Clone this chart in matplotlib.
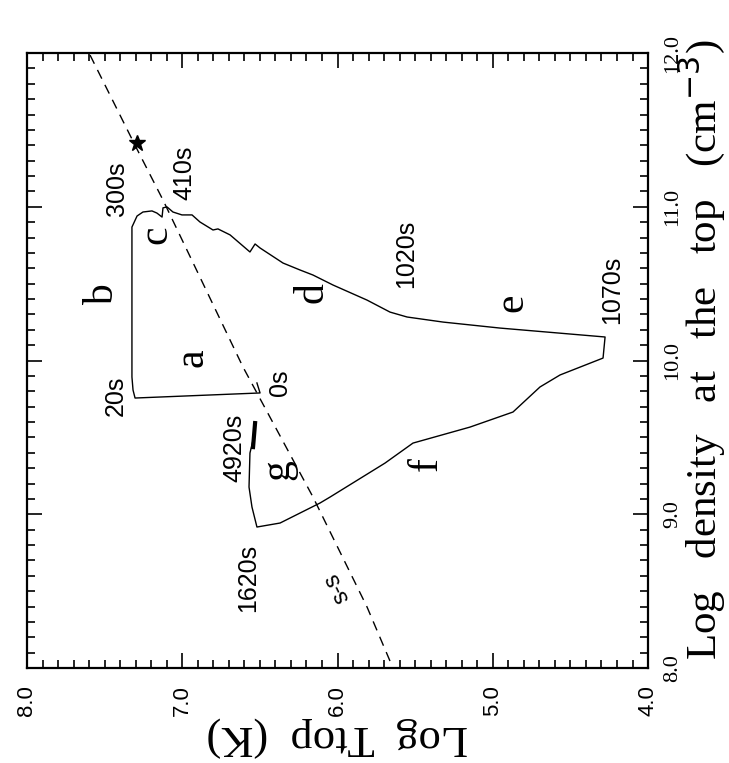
import matplotlib
matplotlib.use("Agg")
import matplotlib.pyplot as plt
from matplotlib.ticker import MultipleLocator

# loop-top track, log T (K) and log n (cm^-3)
log_t = [6.519, 6.499, 7.304, 7.317, 7.324, 7.324, 7.324, 7.291, 7.253, 7.195,
         7.163, 7.130, 7.124, 7.098, 7.060, 7.002, 6.937, 6.886, 6.802, 6.770,
         6.692, 6.564, 6.531, 6.499, 6.351, 6.242, 6.158, 6.029, 5.810, 5.662,
         5.552, 5.320, 4.953, 4.277, 4.290, 4.567, 4.696, 4.870, 5.147, 5.514,
         5.694, 6.048, 6.113, 6.370, 6.519, 6.551, 6.570, 6.564, 6.544, 6.531]
log_n = [9.854, 9.789, 9.756, 9.808, 9.893, 10.393, 10.868, 10.940, 10.966, 10.973,
         10.959, 10.933, 10.993, 10.999, 10.966, 10.947, 10.947, 10.901, 10.849, 10.856,
         10.817, 10.706, 10.758, 10.732, 10.634, 10.589, 10.556, 10.491, 10.393, 10.315,
         10.283, 10.250, 10.211, 10.153, 10.016, 9.906, 9.828, 9.665, 9.567, 9.463,
         9.333, 9.112, 9.073, 8.943, 8.917, 9.047, 9.177, 9.398, 9.483, 9.593]

# last stretch (towards 4920s), drawn heavier
thick_t = [6.544, 6.531]
thick_n = [9.437, 9.593]

# s-s scaling line
ss_t = [7.594, 7.304, 7.124, 6.609, 6.158, 5.810, 5.643]
ss_n = [11.987, 11.40, 11.044, 9.958, 9.112, 8.397, 8.0]

star_t, star_n = 7.291, 11.415

phase_labels = ["a", "b", "c", "d", "e", "f", "g"]
phase_t = [6.937, 7.51, 7.169, 6.164, 4.876, 5.43, 6.383]
phase_n = [10.02, 10.43, 10.816, 10.445, 10.374, 9.327, 9.288]

time_labels = ["0s", "20s", "300s", "410s", "1020s", "1070s", "4920s", "1620s"]
time_t = [6.37, 7.427, 7.42, 6.989, 5.559, 4.232, 6.667, 6.576]
time_n = [9.854, 9.77, 11.115, 11.22, 10.693, 10.458, 9.431, 8.585]

t_ticks = [8.0, 7.0, 6.0, 5.0, 4.0]
n_ticks = [8.0, 9.0, 10.0, 11.0, 12.0]

serif = "Liberation Serif"
sans = "Liberation Sans"

fig = plt.figure(figsize=(7.29, 7.63), dpi=100)
ax = fig.add_axes([0.037, 0.1245, 0.852, 0.806])

ax.plot(log_t, log_n, color="k", lw=1.0)
ax.plot(thick_t, thick_n, color="k", lw=3.0)
ax.plot(ss_t, ss_n, color="k", lw=1.0, ls=(0, (7, 5)))
ax.plot(star_t, star_n, marker="*", color="k", ms=12)

for s, t, n in zip(phase_labels, phase_t, phase_n):
    ax.text(t, n, s, rotation=90, ha="center", va="center",
            fontsize=30, family=serif)
for s, t, n in zip(time_labels, time_t, time_n):
    ax.text(t, n, s, rotation=90, ha="center", va="center",
            fontsize=18, family=sans)
ax.text(6.003, 8.52, "s-s", rotation=116, ha="center", va="center",
        fontsize=17, family=sans)

ax.set_xlim(8.0, 4.0)
ax.set_ylim(8.0, 12.0)
ax.xaxis.set_minor_locator(MultipleLocator(0.1))
ax.yaxis.set_minor_locator(MultipleLocator(0.1))
ax.set_xticks(t_ticks)
ax.set_yticks(n_ticks)
ax.set_xticklabels([f"{v:.1f}" for v in t_ticks], rotation=90,
                   family=sans, fontsize=16)
ax.set_yticklabels([f"{v:.1f}" for v in n_ticks], rotation=90,
                   family=serif, fontsize=16, va="center")

ax.tick_params(which="both", direction="in", top=True, bottom=True,
               left=True, right=True, labelleft=False, labelright=True,
               width=1.2)
ax.tick_params(which="major", length=11)
ax.tick_params(which="minor", length=6)
ax.tick_params(axis="x", which="major", pad=12)
ax.tick_params(axis="y", which="major", pad=11)
for sp in ax.spines.values():
    sp.set_linewidth(1.6)

ax.set_xlabel("Log  Ttop  (K)", rotation=180, family=serif, fontsize=32,
              labelpad=0)
ax.yaxis.set_label_position("right")
ax.set_ylabel("Log   density   at   the   top   (cm$^{-3}$)", rotation=90,
              family=serif, fontsize=31, labelpad=0)
ax.yaxis.set_label_coords(1.046, 0.517)

fig.savefig("out.png", dpi=100)
